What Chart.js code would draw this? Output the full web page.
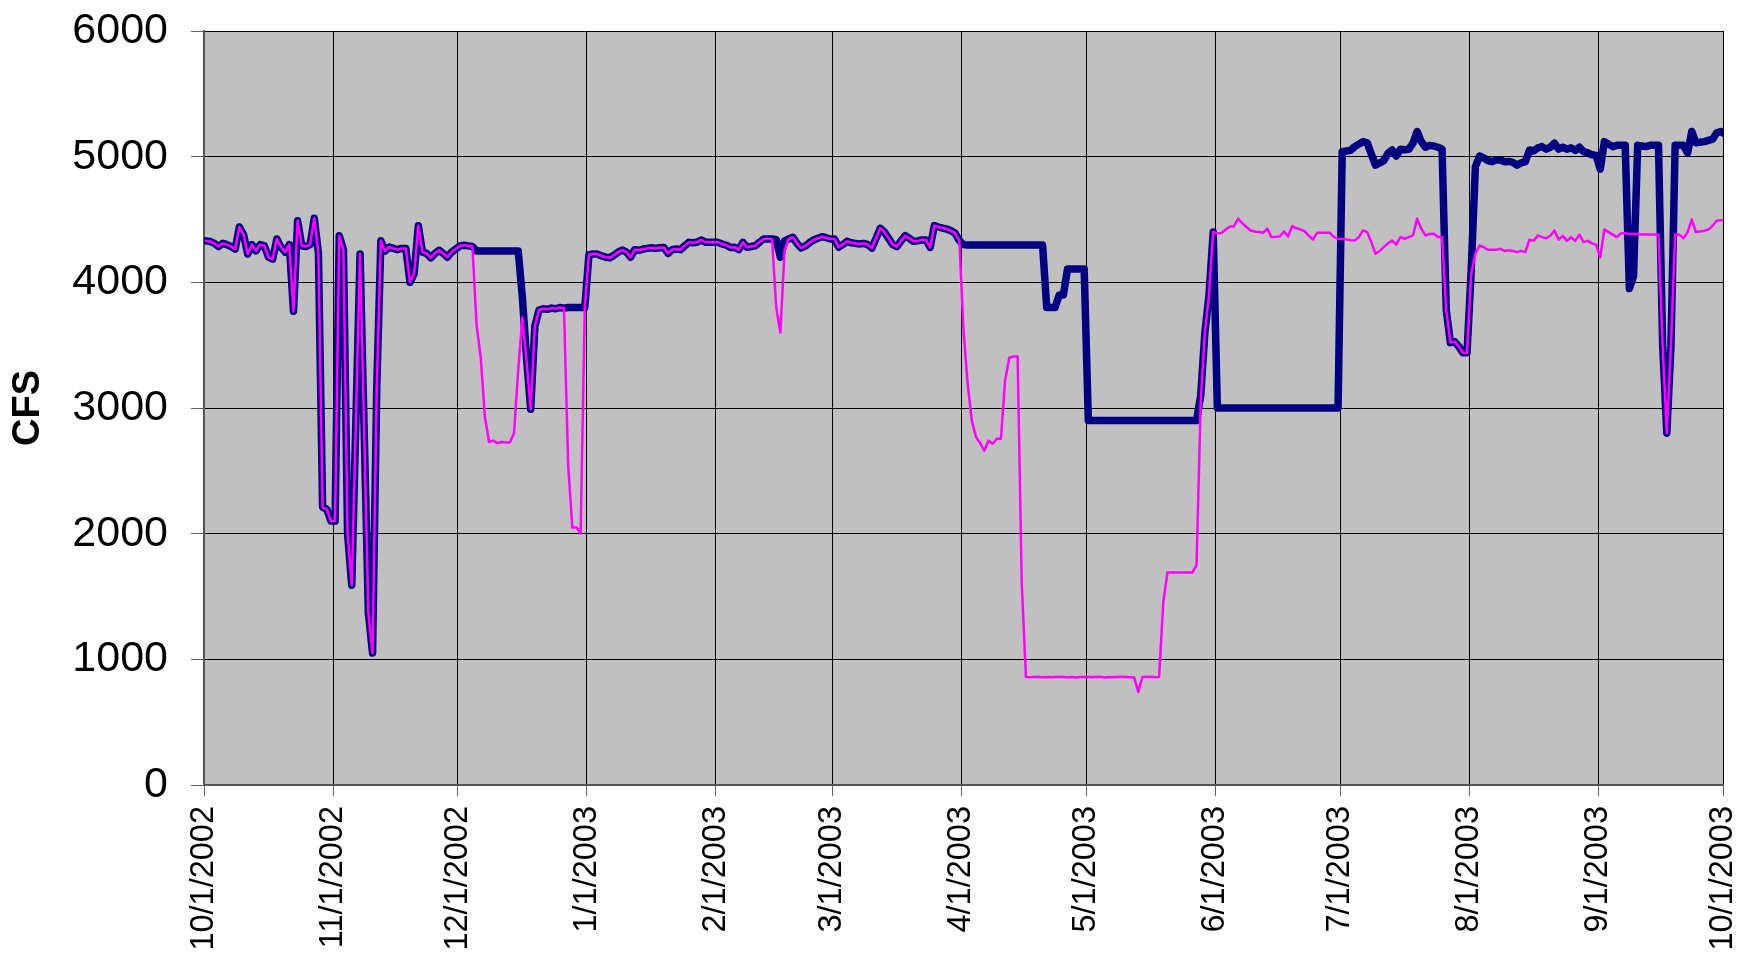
<!DOCTYPE html>
<html>
<head>
<meta charset="utf-8">
<script src="https://cdn.jsdelivr.net/npm/chart.js@4.4.1/dist/chart.umd.min.js"></script>
<style>
  html, body { margin: 0; padding: 0; background: #fff; }
  #wrap { width: 1738px; height: 953px; }
</style>
</head>
<body>
<div id="wrap"><canvas id="flow" width="1738" height="953"></canvas></div>
<script>
// daily flow, 10/1/2002 .. 10/1/2003 (one value per day, day 0 = 10/1/2002)
const monthLabels = ["10/1/2002", "11/1/2002", "12/1/2002", "1/1/2003", "2/1/2003", "3/1/2003",
  "4/1/2003", "5/1/2003", "6/1/2003", "7/1/2003", "8/1/2003", "9/1/2003", "10/1/2003"];
const monthDays = [0, 31, 61, 92, 123, 151, 182, 212, 243, 273, 304, 335, 365];
const yTicks = [0, 1000, 2000, 3000, 4000, 5000, 6000];

// thick navy series
const navyFlow = [
  // Oct 2002
  4330, 4325, 4310, 4285, 4310, 4300, 4285, 4265, 4440, 4380,
  4225, 4300, 4250, 4300, 4290, 4200, 4185, 4345, 4280, 4240,
  4300, 3770, 4490, 4290, 4285, 4300, 4510, 4230, 2210, 2195,
  2100,
  // Nov
  2100, 4370, 4260, 2000, 1590, 2900, 4225, 2800, 1370, 1050,
  3150, 4330, 4250, 4280, 4270, 4260, 4270, 4270, 4000, 4070,
  4450, 4240, 4230, 4195, 4230, 4255, 4230, 4200, 4240, 4265,
  // Dec
  4290, 4295, 4290, 4285, 4250, 4250, 4250, 4250, 4250, 4250,
  4250, 4250, 4250, 4250, 4250, 3880, 3400, 2990, 3650, 3780,
  3790, 3785, 3795, 3790, 3800, 3795, 3800, 3800, 3800, 3800,
  3800,
  // Jan 2003
  4220, 4225, 4225, 4210, 4200, 4195, 4215, 4240, 4257, 4240,
  4200, 4260, 4255, 4265, 4270, 4275, 4270, 4275, 4278, 4230,
  4260, 4265, 4260, 4290, 4318, 4315, 4320, 4337, 4318, 4318,
  4318,
  // Feb
  4318, 4305, 4295, 4278, 4280, 4260, 4318, 4278, 4285, 4291,
  4320, 4345, 4345, 4345, 4340, 4200, 4330, 4345, 4358, 4310,
  4273, 4290, 4315, 4337, 4350, 4363, 4355, 4345,
  // Mar
  4345, 4280, 4300, 4326, 4315, 4310, 4305, 4310, 4300, 4273,
  4350, 4430, 4400, 4350, 4300, 4284, 4330, 4371, 4350, 4326,
  4330, 4337, 4337, 4278, 4451, 4440, 4432, 4424, 4410, 4390,
  4332,
  // Apr
  4300, 4297, 4297, 4297, 4297, 4297, 4297, 4297, 4297, 4297,
  4297, 4297, 4297, 4297, 4297, 4297, 4297, 4297, 4297, 4297,
  3800, 3800, 3800, 3900, 3900, 4106, 4106, 4106, 4106, 4106,
  // May
  2900, 2900, 2900, 2900, 2900, 2900, 2900, 2900, 2900, 2900,
  2900, 2900, 2900, 2900, 2900, 2900, 2900, 2900, 2900, 2900,
  2900, 2900, 2900, 2900, 2900, 2900, 2900, 3100, 3600, 3900,
  4400,
  // Jun
  3000, 3000, 3000, 3000, 3000, 3000, 3000, 3000, 3000, 3000,
  3000, 3000, 3000, 3000, 3000, 3000, 3000, 3000, 3000, 3000,
  3000, 3000, 3000, 3000, 3000, 3000, 3000, 3000, 3000, 3000,
  // Jul
  5040, 5045, 5050, 5080, 5100, 5120, 5110, 5020, 4933, 4950,
  4968, 5027, 5053, 5005, 5059, 5055, 5059, 5107, 5200, 5120,
  5075, 5090, 5085, 5075, 5060, 3780, 3520, 3528, 3490, 3440,
  3440,
  // Aug
  4100, 4920, 5005, 4990, 4968, 4960, 4975, 4973, 4960, 4962,
  4955, 4933, 4950, 4960, 5053, 5045, 5070, 5080, 5060, 5075,
  5107, 5060, 5075, 5060, 5070, 5050, 5075, 5040, 5030, 5015,
  5010,
  // Sep
  4900, 5120, 5100, 5080, 5090, 5090, 5090, 3950, 4050, 5090,
  5085, 5080, 5090, 5090, 5090, 3500, 2800, 3500, 5090, 5090,
  5090, 5030, 5200, 5110, 5115, 5120, 5130, 5140, 5190, 5200,
  // 10/1/2003
  5180
];

// thin magenta series
const pinkFlow = [
  // Oct 2002
  4330, 4325, 4310, 4285, 4310, 4300, 4285, 4265, 4440, 4380,
  4225, 4300, 4250, 4300, 4290, 4200, 4185, 4345, 4280, 4240,
  4300, 3770, 4490, 4290, 4285, 4300, 4510, 4230, 2210, 2195,
  2100,
  // Nov
  2100, 4370, 4260, 2000, 1590, 2900, 4225, 2800, 1370, 1050,
  3150, 4330, 4250, 4280, 4270, 4260, 4270, 4270, 4000, 4070,
  4450, 4240, 4230, 4195, 4230, 4255, 4230, 4200, 4240, 4265,
  // Dec
  4290, 4295, 4290, 4285, 3660, 3400, 2930, 2730, 2740, 2720,
  2730, 2725, 2725, 2800, 3300, 3720, 3380, 2990, 3650, 3780,
  3790, 3785, 3795, 3790, 3800, 3795, 2550, 2050, 2050, 2000,
  3800,
  // Jan 2003
  4220, 4225, 4225, 4210, 4200, 4195, 4215, 4240, 4257, 4240,
  4200, 4260, 4255, 4265, 4270, 4275, 4270, 4275, 4278, 4230,
  4260, 4265, 4260, 4290, 4318, 4315, 4320, 4337, 4318, 4318,
  4318,
  // Feb
  4318, 4305, 4295, 4278, 4280, 4260, 4318, 4278, 4285, 4291,
  4320, 4345, 4345, 4345, 3800, 3600, 4250, 4345, 4358, 4310,
  4273, 4290, 4315, 4337, 4350, 4363, 4355, 4345,
  // Mar
  4345, 4280, 4300, 4326, 4315, 4310, 4305, 4310, 4300, 4273,
  4350, 4430, 4400, 4350, 4300, 4284, 4330, 4371, 4350, 4326,
  4330, 4337, 4337, 4278, 4451, 4440, 4432, 4424, 4410, 4390,
  4332,
  // Apr
  3620, 3190, 2900, 2770, 2720, 2660, 2740, 2715, 2755, 2755,
  3220, 3400, 3410, 3410, 1600, 860, 858, 860, 862, 858,
  860, 857, 860, 862, 860, 858, 860, 856, 860, 860,
  // May
  860, 858, 862, 860, 855, 860, 858, 860, 862, 860,
  858, 855, 740, 860, 860, 862, 858, 860, 1450, 1690,
  1690, 1690, 1690, 1690, 1690, 1690, 1750, 3050, 3600, 3900,
  4400,
  // Jun
  4390, 4392, 4420, 4445, 4445, 4507, 4470, 4440, 4413, 4405,
  4400, 4395, 4427, 4360, 4362, 4365, 4405, 4365, 4448, 4430,
  4420, 4405, 4370, 4341, 4395, 4395, 4395, 4395, 4360, 4347,
  // Jul
  4345, 4340, 4335, 4333, 4360, 4413, 4400, 4320, 4227, 4250,
  4280, 4310, 4333, 4301, 4360, 4347, 4360, 4373, 4507, 4427,
  4373, 4385, 4387, 4360, 4360, 3780, 3520, 3528, 3490, 3440,
  3440,
  // Aug
  4067, 4227, 4293, 4280, 4259, 4260, 4259, 4267, 4250, 4255,
  4250, 4240, 4250, 4240, 4339, 4330, 4373, 4360, 4350, 4370,
  4413, 4340, 4370, 4330, 4360, 4330, 4380, 4320, 4330, 4310,
  4300,
  // Sep
  4200, 4420, 4400, 4380, 4360, 4390, 4390, 4385, 4385, 4385,
  4380, 4380, 4380, 4380, 4380, 3500, 2800, 3500, 4380, 4380,
  4350, 4400, 4500, 4400, 4405, 4410, 4420, 4450, 4490, 4495,
  // 10/1/2003
  4490
];

const FONT = "'Liberation Sans', Arial, sans-serif";

const plotBg = {
  id: "plotBg",
  beforeDraw(chart) {
    const { ctx, chartArea: a } = chart;
    ctx.save();
    ctx.fillStyle = "#c0c0c0";
    ctx.fillRect(a.left, a.top, a.right - a.left, a.bottom - a.top);
    ctx.restore();
  }
};

// each day sits in the middle of its own day slot, like the spreadsheet chart
const toPts = arr => arr.map((v, i) => ({ x: i + 0.5, y: v }));

new Chart(document.getElementById("flow"), {
  type: "line",
  data: {
    datasets: [
      // first dataset is painted last, so magenta sits on top of navy
      { data: toPts(pinkFlow), borderColor: "#ff00ff", borderWidth: 2.5, pointRadius: 0, tension: 0, borderJoinStyle: "round", borderCapStyle: "round" },
      { data: toPts(navyFlow), borderColor: "#000080", borderWidth: 7.5, pointRadius: 0, tension: 0, borderJoinStyle: "round", borderCapStyle: "round" }
    ]
  },
  options: {
    responsive: false,
    devicePixelRatio: 1,
    animation: false,
    layout: { padding: { top: 31, right: 15, left: 0, bottom: 0 } },
    plugins: { legend: { display: false }, tooltip: { enabled: false } },
    scales: {
      x: {
        type: "linear",
        min: 0,
        max: 365,
        afterBuildTicks: s => { s.ticks = monthDays.map(v => ({ value: v })); },
        afterFit: s => { s.height = 168; s.paddingLeft = 0; s.paddingRight = 0; },
        ticks: {
          autoSkip: false,
          minRotation: 90,
          maxRotation: 90,
          padding: 10,
          color: "#000",
          font: { family: FONT, size: 32.5 },
          callback: v => monthLabels[monthDays.indexOf(v)]
        },
        grid: { color: "#000", lineWidth: 1, tickLength: 11, tickColor: "#666" },
        border: { color: "#555", width: 2 }
      },
      y: {
        min: 0,
        max: 6000,
        afterBuildTicks: s => { s.ticks = yTicks.map(v => ({ value: v })); },
        afterFit: s => { s.width = 204; s.paddingTop = 0; s.paddingBottom = 0; },
        ticks: {
          padding: 23,
          color: "#000",
          font: { family: FONT, size: 43 },
          callback: v => String(v)
        },
        grid: { color: "#000", lineWidth: 1, tickLength: 13, tickColor: "#666" },
        border: { color: "#555", width: 2 },
        title: {
          display: true,
          text: "CFS",
          color: "#000",
          font: { family: FONT, size: 38, weight: "bold" },
          padding: { top: 6, bottom: 0 }
        }
      }
    }
  },
  plugins: [plotBg]
});
</script>
</body>
</html>
